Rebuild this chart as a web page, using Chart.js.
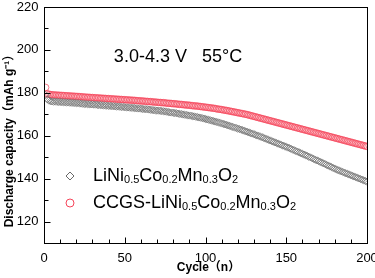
<!DOCTYPE html>
<html>
<head>
<meta charset="utf-8">
<script src="https://cdn.jsdelivr.net/npm/chart.js@4/dist/chart.umd.min.js"></script>
<style>
  html, body { margin: 0; padding: 0; background: #fff; }
  #wrap { width: 375px; height: 278px; }
</style>
</head>
<body>
<div id="wrap"><canvas id="cap"></canvas></div>
<script>
// discharge capacity (mAh/g) for cycles 1..200
const grayCap = [
  179.0, 177.0, 176.4, 176.1, 176.0, 175.9, 175.9, 175.8, 175.8, 175.7,
  175.7, 175.6, 175.6, 175.5, 175.5, 175.4, 175.4, 175.3, 175.3, 175.2,
  175.2, 175.1, 175.0, 174.9, 174.8, 174.8, 174.7, 174.7, 174.6, 174.6,
  174.5, 174.5, 174.4, 174.3, 174.3, 174.2, 174.1, 174.1, 174.0, 173.9,
  173.9, 173.8, 173.8, 173.7, 173.6, 173.6, 173.5, 173.4, 173.4, 173.3,
  173.2, 173.2, 173.1, 173.0, 173.0, 172.9, 172.8, 172.7, 172.7, 172.6,
  172.5, 172.4, 172.4, 172.3, 172.2, 172.1, 172.0, 171.9, 171.8, 171.7,
  171.7, 171.6, 171.5, 171.4, 171.3, 171.2, 171.0, 170.9, 170.8, 170.7,
  170.6, 170.5, 170.3, 170.2, 170.1, 169.9, 169.8, 169.7, 169.5, 169.4,
  169.3, 169.1, 169.0, 168.8, 168.7, 168.5, 168.4, 168.2, 168.0, 167.8,
  167.6, 167.4, 167.2, 167.0, 166.8, 166.6, 166.4, 166.2, 166.0, 165.7,
  165.5, 165.3, 165.1, 164.8, 164.6, 164.3, 164.1, 163.8, 163.6, 163.3,
  163.1, 162.8, 162.6, 162.3, 162.0, 161.8, 161.5, 161.2, 161.0, 160.7,
  160.4, 160.1, 159.9, 159.6, 159.3, 159.0, 158.7, 158.4, 158.1, 157.8,
  157.5, 157.2, 156.9, 156.6, 156.3, 156.0, 155.7, 155.4, 155.1, 154.8,
  154.5, 154.2, 153.9, 153.5, 153.2, 152.9, 152.6, 152.2, 151.9, 151.6,
  151.2, 150.9, 150.6, 150.2, 149.9, 149.5, 149.2, 148.8, 148.5, 148.2,
  147.8, 147.5, 147.1, 146.8, 146.4, 146.1, 145.7, 145.4, 145.0, 144.7,
  144.3, 144.0, 143.7, 143.4, 143.1, 142.8, 142.5, 142.2, 141.9, 141.6,
  141.3, 141.0, 140.7, 140.4, 140.1, 139.8, 139.5, 139.2, 138.9, 138.6
];

const redCap = [
  182.5, 179.6, 179.3, 179.2, 179.1, 179.0, 179.0, 178.9, 178.9, 178.8,
  178.8, 178.7, 178.7, 178.6, 178.6, 178.5, 178.5, 178.4, 178.4, 178.3,
  178.3, 178.2, 178.2, 178.1, 178.0, 178.0, 177.9, 177.9, 177.8, 177.8,
  177.7, 177.7, 177.6, 177.6, 177.5, 177.5, 177.4, 177.4, 177.3, 177.3,
  177.2, 177.2, 177.1, 177.1, 177.0, 177.0, 176.9, 176.9, 176.8, 176.8,
  176.7, 176.7, 176.6, 176.6, 176.5, 176.5, 176.4, 176.3, 176.3, 176.2,
  176.2, 176.1, 176.0, 176.0, 175.9, 175.9, 175.8, 175.7, 175.7, 175.6,
  175.5, 175.5, 175.4, 175.4, 175.3, 175.2, 175.1, 175.1, 175.0, 174.9,
  174.9, 174.8, 174.7, 174.6, 174.6, 174.5, 174.4, 174.3, 174.3, 174.2,
  174.1, 174.0, 173.9, 173.9, 173.8, 173.7, 173.6, 173.5, 173.4, 173.3,
  173.2, 173.1, 173.0, 172.9, 172.8, 172.7, 172.5, 172.4, 172.3, 172.2,
  172.0, 171.9, 171.8, 171.6, 171.5, 171.3, 171.2, 171.0, 170.9, 170.7,
  170.6, 170.4, 170.3, 170.1, 170.0, 169.8, 169.6, 169.4, 169.2, 169.0,
  168.8, 168.6, 168.4, 168.2, 168.0, 167.8, 167.6, 167.4, 167.2, 167.0,
  166.8, 166.6, 166.4, 166.2, 166.0, 165.8, 165.6, 165.4, 165.2, 165.0,
  164.8, 164.6, 164.4, 164.2, 164.0, 163.8, 163.6, 163.4, 163.2, 163.0,
  162.8, 162.6, 162.4, 162.2, 162.0, 161.8, 161.6, 161.4, 161.2, 161.0,
  160.8, 160.6, 160.4, 160.2, 160.0, 159.8, 159.6, 159.4, 159.2, 159.0,
  158.8, 158.6, 158.4, 158.2, 158.0, 157.8, 157.6, 157.4, 157.2, 157.0,
  156.8, 156.6, 156.4, 156.2, 156.0, 155.8, 155.6, 155.4, 155.2, 155.0
];

const xTicks = [0, 50, 100, 150, 200];
const xMinorTicks = [10, 20, 30, 40, 60, 70, 80, 90, 110, 120, 130, 140, 160, 170, 180, 190];
const yTicks = [120, 140, 160, 180, 200, 220];
const yMinorTicks = [110, 130, 150, 170, 190, 210];

// legend names as [text, isSubscript] pieces
const grayName = [['LiNi', 0], ['0.5', 1], ['Co', 0], ['0.2', 1], ['Mn', 0], ['0.3', 1], ['O', 0], ['2', 1]];
const redName = [['CCGS-LiNi', 0], ['0.5', 1], ['Co', 0], ['0.2', 1], ['Mn', 0], ['0.3', 1], ['O', 0], ['2', 1]];
const condition = '3.0-4.3 V   55°C';

const FONT = "'Liberation Sans', Arial, sans-serif";
const GRAY = '#6a6a6a';
const RED = '#f5455a';

function toPoints(arr) {
  return arr.map((v, i) => ({ x: i + 1, y: v }));
}

function drawFormula(ctx, parts, x, y) {
  let cx = x;
  parts.forEach(([txt, sub]) => {
    ctx.font = sub ? `11px ${FONT}` : `18px ${FONT}`;
    ctx.fillText(txt, cx, sub ? y + 4 : y);
    cx += ctx.measureText(txt).width;
  });
}

// frame, inward ticks, tick labels, titles, legend and the condition label
const decorations = {
  id: 'decorations',
  afterDraw(chart) {
    const { ctx, chartArea: a, scales: { x, y } } = chart;
    const L = Math.round(a.left) + 0.5, R = Math.round(a.right) + 0.5;
    const T = Math.round(a.top) + 0.5, B = Math.round(a.bottom) + 0.5;
    ctx.save();
    ctx.strokeStyle = '#000';
    ctx.lineWidth = 1;
    ctx.strokeRect(L, T, R - L, B - T);

    ctx.beginPath();
    xTicks.forEach(v => { const p = Math.round(x.getPixelForValue(v)) + 0.5; ctx.moveTo(p, B); ctx.lineTo(p, B - 6); });
    xMinorTicks.forEach(v => { const p = Math.round(x.getPixelForValue(v)) + 0.5; ctx.moveTo(p, B); ctx.lineTo(p, B - 4); });
    yTicks.forEach(v => { const p = Math.round(y.getPixelForValue(v)) + 0.5; ctx.moveTo(L, p); ctx.lineTo(L + 6, p); });
    yMinorTicks.forEach(v => { const p = Math.round(y.getPixelForValue(v)) + 0.5; ctx.moveTo(L, p); ctx.lineTo(L + 4, p); });
    ctx.stroke();

    // tick labels
    ctx.fillStyle = '#000';
    ctx.font = `13px ${FONT}`;
    ctx.textAlign = 'center';
    ctx.textBaseline = 'middle';
    xTicks.forEach(v => ctx.fillText(String(v), x.getPixelForValue(v), B + 15));
    ctx.textAlign = 'right';
    yTicks.forEach(v => ctx.fillText(String(v), L - 6, y.getPixelForValue(v)));

    // axis titles
    ctx.textAlign = 'center';
    ctx.font = `bold 12px ${FONT}, 'Noto Sans CJK SC'`;
    ctx.fillText('Cycle（n）', x.getPixelForValue(100) + 3, 268);
    ctx.save();
    ctx.translate(10, 138);
    ctx.rotate(-Math.PI / 2);
    ctx.fillText('Discharge capacity（mAh g⁻¹）', 0, 0);
    ctx.restore();

    // condition label
    ctx.font = `18px ${FONT}`;
    ctx.fillText(condition, 178, 57);

    // legend
    const ds = chart.data.datasets;
    [[grayName, 176], [redName, 203]].forEach(([name, ly], i) => {
      const d = ds[i];
      ctx.save();
      ctx.strokeStyle = d.borderColor;
      ctx.fillStyle = '#fff';
      ctx.lineWidth = 1;
      Chart.helpers.drawPoint(ctx, { pointStyle: d.pointStyle, radius: 4, borderWidth: 1, rotation: 0 }, 70, ly);
      ctx.restore();
      ctx.fillStyle = '#000';
      ctx.textAlign = 'left';
      ctx.textBaseline = 'middle';
      drawFormula(ctx, name, 93, ly);
    });
    ctx.restore();
  }
};

new Chart(document.getElementById('cap'), {
  type: 'scatter',
  data: {
    datasets: [
      {
        label: 'LiNi0.5Co0.2Mn0.3O2',
        data: toPoints(grayCap),
        pointStyle: 'rectRot',
        pointRadius: 3.6,
        borderColor: GRAY,
        backgroundColor: 'rgba(255,255,255,0)',
        borderWidth: 0.7,
      },
      {
        label: 'CCGS-LiNi0.5Co0.2Mn0.3O2',
        data: toPoints(redCap),
        pointStyle: 'circle',
        pointRadius: 3.3,
        borderColor: RED,
        backgroundColor: 'rgba(255,255,255,0)',
        borderWidth: 0.7,
      },
    ],
  },
  options: {
    responsive: true,
    maintainAspectRatio: false,
    animation: false,
    layout: { padding: { top: 7, right: 8, left: 0, bottom: 0 } },
    scales: {
      x: {
        type: 'linear',
        min: 0,
        max: 200,
        grid: { display: false, drawTicks: false },
        border: { display: false },
        ticks: { display: false },
        afterFit: (s) => { s.height = 35; },
      },
      y: {
        min: 110,
        max: 220,
        grid: { display: false, drawTicks: false },
        border: { display: false },
        ticks: { display: false },
        afterFit: (s) => { s.width = 44; },
      },
    },
    plugins: {
      legend: { display: false },
      tooltip: { enabled: false },
    },
  },
  plugins: [decorations],
});
</script>
</body>
</html>
